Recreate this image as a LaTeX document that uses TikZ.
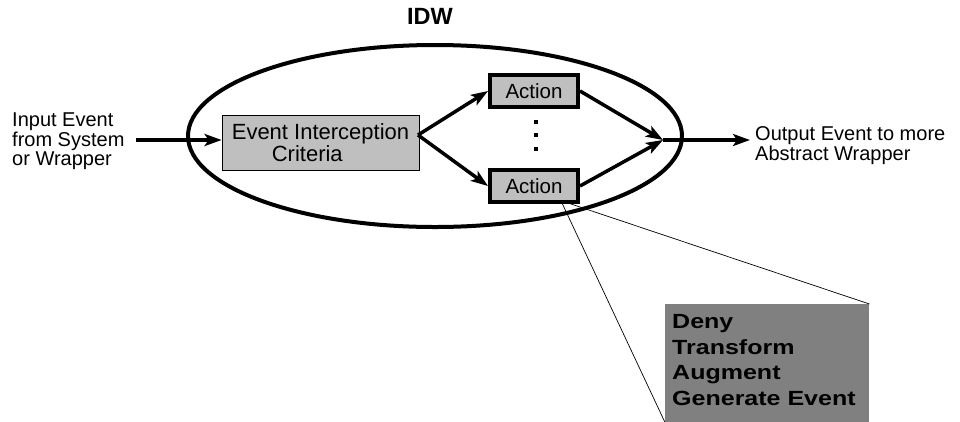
\documentclass[tikz,border=0pt]{standalone}
\usepackage{fontspec}
\setmainfont{Liberation Sans}
\newfontfamily\widesans[FakeStretch=1.22]{Liberation Sans}
\usetikzlibrary{shapes.geometric,arrows.meta}
\begin{document}
\begin{tikzpicture}[x=1pt,y=-1pt,
  lbl/.style={align=left, inner sep=0pt},
  flow/.style={line width=3.5pt, -{Stealth[length=17pt,width=12pt,inset=4pt]}},
  actbox/.style={draw, line width=4pt, fill=black!25, minimum width=88pt, minimum height=32pt, inner sep=0pt, font=\fontsize{20.5}{22}\selectfont},
  zoomline/.style={line width=0.7pt}]
\useasboundingbox (0,0) rectangle (960,421);

% wrapper outline and its title
\node[ellipse, draw, line width=4pt, minimum width=494pt, minimum height=182pt] (idw) at (435,136) {};
\node[font=\bfseries\fontsize{23.5}{26}\selectfont, anchor=base] (title) at (430,24) {IDW};

% interception criteria
\node[draw, line width=0.8pt, fill=black!25, minimum width=197pt, minimum height=55pt, align=left, inner sep=0pt,
      font=\fontsize{22}{22}\selectfont] (eic) at (320.5,142.5) {Event Interception\\\hspace*{40pt}Criteria};

% actions
\node[actbox] (a1) at (534,91) {Action};
\node[actbox] (a2) at (534,186) {Action};
\foreach \y in {122,135,149}
  \fill (534,\y-2) rectangle ++(4,4);

% texts outside the wrapper (base anchor = baseline of the last line)
\node[lbl, anchor=base west, font=\fontsize{20}{18.5}\selectfont] (in) at (12,165) {Input Event\\from System\\or Wrapper};
\node[lbl, anchor=base west, font=\fontsize{20}{20}\selectfont] (out) at (755,160) {Output Event to more\\Abstract Wrapper};

% connectors
\coordinate (src) at (136,140);
\coordinate (fork) at (418,135);
\coordinate (merge) at (663,140);
\coordinate (outend) at (750,140);
\draw[flow] (src) -- (eic.west |- src);
\draw[flow] (fork) -- (a1.west);
\draw[flow] (fork) -- (a2.west);
\draw[flow] (a1.east) -- (merge);
\draw[flow] (a2.east) -- (merge);
\draw[flow] (merge) -- (outend);

% expanded view of an action
\node[fill=black!50, minimum width=204pt, minimum height=118pt, anchor=north west, inner sep=0pt] (detail) at (665,304) {};
\node[anchor=base west, align=left, inner sep=0pt, font=\widesans\bfseries\fontsize{20.5}{25.5}\selectfont] (detailtext) at (672,405)
  {Deny\\Transform\\Augment\\Generate Event};
\coordinate (z1) at (562,203);
\coordinate (z2) at (568,203);
\draw[zoomline] (z1) -- (detail.south west);
\draw[zoomline] (z2) -- (detail.north east);
\end{tikzpicture}
\end{document}
